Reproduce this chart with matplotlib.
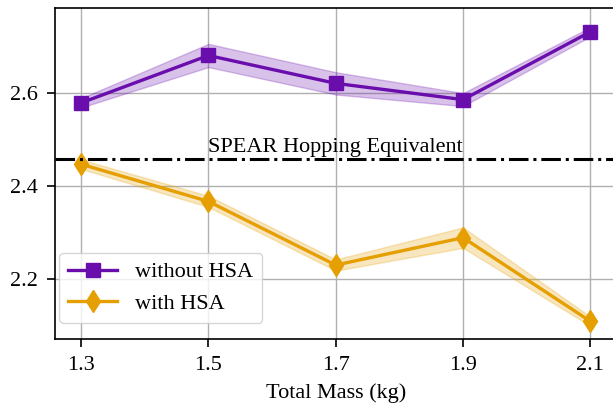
import matplotlib
matplotlib.use("Agg")
import matplotlib.pyplot as plt
import numpy as np

# data
mass = [1.3, 1.5, 1.7, 1.9, 2.1]
without_hsa = [2.579, 2.681, 2.621, 2.586, 2.732]
without_hsa_err = [0.010, 0.025, 0.024, 0.014, 0.010]
with_hsa = [2.447, 2.367, 2.230, 2.289, 2.109]
with_hsa_err = [0.010, 0.012, 0.012, 0.022, 0.010]
spear_equiv = 2.459

purple = "#6a0dad"
orange = "#e69f00"

plt.rcParams["font.family"] = ["Liberation Serif", "DejaVu Serif"]
plt.rcParams["mathtext.fontset"] = "stix"
plt.rcParams["font.size"] = 16

fig = plt.figure(figsize=(6.13, 4.04), dpi=100)
ax = fig.add_axes([0.0897, 0.161, 0.916, 0.819])

x = np.array(mass)
y1, e1 = np.array(without_hsa), np.array(without_hsa_err)
y2, e2 = np.array(with_hsa), np.array(with_hsa_err)

ax.fill_between(x, y1 - e1, y1 + e1, color=purple, alpha=0.25, lw=1)
ax.plot(x, y1, color=purple, lw=2.4, marker="s", ms=10, label="without HSA")
ax.fill_between(x, y2 - e2, y2 + e2, color=orange, alpha=0.25, lw=1)
ax.plot(x, y2, color=orange, lw=2.4, marker="d", ms=11.5, label="with HSA")

ax.axhline(spear_equiv, color="black", ls="-.", lw=2.2)
ax.text(1.7, spear_equiv + 0.004, "SPEAR Hopping Equivalent",
        ha="center", va="bottom")

ax.set_xlim(1.259, 2.141)
ax.set_ylim(2.071, 2.783)
ax.set_xticks(mass)
ax.set_xticklabels([f"{m:.1f}" for m in mass])
ax.set_yticks([2.2, 2.4, 2.6])
ax.tick_params(length=6, width=1.2, pad=6)
ax.set_xlabel("Total Mass (kg)", labelpad=6)
# title sits mostly above the canvas, as in the cropped reference
ax.set_title("Hopping Height vs. Payload Mass", pad=11)
ax.grid(True, color="#b0b0b0", lw=1)
ax.set_axisbelow(True)
for s in ax.spines.values():
    s.set_linewidth(1.2)

ax.legend(loc="lower left", bbox_to_anchor=(0.0, 0.035),
          borderaxespad=0.2, handlelength=2.2)

fig.savefig("out.png", dpi=100)
